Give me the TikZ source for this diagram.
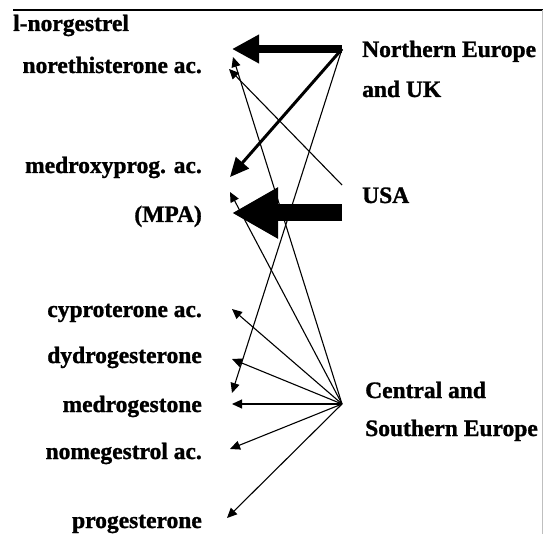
\documentclass[tikz,border=0pt]{standalone}
\usepackage{fontspec}
\setmainfont{Liberation Serif}[BoldFeatures={FakeBold=1.2}]
\usetikzlibrary{arrows.meta}
\begin{document}
\begin{tikzpicture}[x=1pt,y=-1pt,
  lbl/.style={font=\fontsize{23.5}{28}\selectfont\bfseries, inner sep=0pt},
  lft/.style={lbl, anchor=base east},
  rgt/.style={lbl, anchor=base west},
  thinarr/.style={line width=1.1pt, -{Triangle[length=10pt,width=9pt]}},
  medarr/.style={line width=3pt, -{Triangle[length=19pt,width=17pt]}},
  bigarr/.style={line width=8pt, -{Triangle[length=27pt,width=27pt]}},
  hugearr/.style={line width=17pt, -{Triangle[length=46pt,width=48pt]}}
]
\useasboundingbox (0,0) rectangle (543,534);
% frame lines
\draw[line width=2.5pt] (13,10) -- (543,10);
\draw[line width=0.8pt, black!25] (542,10) -- (542,534);

% drug labels
\node[rgt] (lng) at (13,31) {l-norgestrel};
\node[lft] (net) at (202,73) {norethisterone ac.};
\node[lft] (mpa) at (202,173) {medroxyprog. ac.};
\node[lft] (mpa2) at (202,222) {(MPA)};
\node[lft] (cpa) at (202,317) {cyproterone ac.};
\node[lft] (dyd) at (202,363) {dydrogesterone};
\node[lft] (mdg) at (202,412) {medrogestone};
\node[lft] (nom) at (202,459) {nomegestrol ac.};
\node[lft] (prg) at (202,528) {progesterone};

% region labels
\node[rgt] (ne1) at (362,57) {Northern Europe};
\node[rgt] (ne2) at (362,97) {and UK};
\node[rgt] (usa) at (362,203) {USA};
\node[rgt] (ce1) at (365,398) {Central and};
\node[rgt] (ce2) at (365,436) {Southern Europe};

% sources
\coordinate (sN) at (342,49);
\coordinate (sU) at (342,185);
\coordinate (sU2) at (342,213);
\coordinate (sC) at (342,404);

% targets
\coordinate (tLng) at (232,49);
\coordinate (tNetC) at (233,57);
\coordinate (tNetU) at (229,69);
\coordinate (tMpaN) at (230,177);
\coordinate (tMpaC) at (230,192);
\coordinate (tMpaU) at (232,213);
\coordinate (tCpa) at (232,309);
\coordinate (tDyd) at (232,359);
\coordinate (tMdgN) at (232,393);
\coordinate (tMdg) at (232,404);
\coordinate (tNom) at (230,449);
\coordinate (tPrg) at (227,518);

% Northern Europe and UK
\draw[bigarr] (sN) -- (tLng);
\draw[medarr] (sN) -- (tMpaN);
\draw[thinarr] (sN) -- (tMdgN);

% USA
\draw[thinarr] (sU) -- (tNetU);
\draw[hugearr] (sU2) -- (tMpaU);

% Central and Southern Europe
\draw[thinarr] (sC) -- (tNetC);
\draw[thinarr] (sC) -- (tMpaC);
\draw[thinarr] (sC) -- (tCpa);
\draw[thinarr] (sC) -- (tDyd);
\draw[thinarr] (sC) -- (tMdg);
\draw[thinarr] (sC) -- (tNom);
\draw[thinarr] (sC) -- (tPrg);
\end{tikzpicture}
\end{document}
